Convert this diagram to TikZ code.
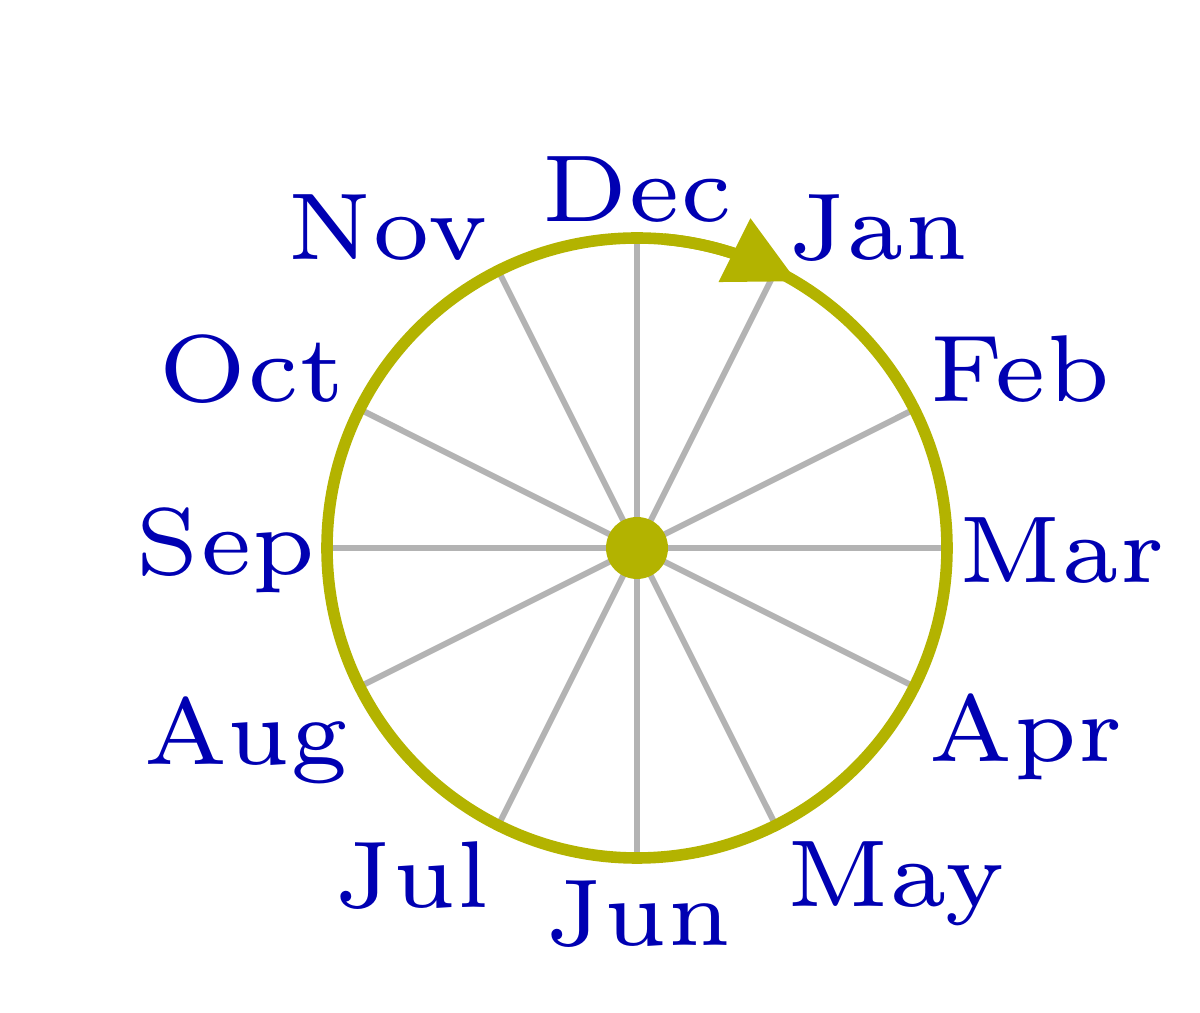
\documentclass[tikz,border=0pt]{standalone}
\usepackage{tikz}
\usetikzlibrary{arrows.meta}
\definecolor{rimcol}{RGB}{179,179,0}
\definecolor{spokecol}{RGB}{179,179,179}
\definecolor{labelcol}{RGB}{0,0,178}

\begin{document}
\begin{tikzpicture}[
    spoke/.style={spokecol,line width=1.7pt},
    rim/.style={rimcol,line width=3.3pt},
    month/.style={text=labelcol,font=\fontsize{6}{7}\selectfont,scale=4.5,anchor=base,inner sep=0pt}]
  \useasboundingbox (0,0) rectangle (12,10.13);
  \coordinate (c) at (6.37,4.65);
  \foreach \ang in {0,26.57,63.43,90,116.57,153.43,180,206.57,243.43,270,296.57,333.43}
    \draw[spoke] (c) -- ++(\ang:3.1);
  \draw[rim] (c) circle[radius=3.1];
  \draw[rim,-{Triangle[length=0.7cm,width=0.68cm]}] (c) ++(85:3.1)
    arc[start angle=85,end angle=63.43,radius=3.1] -- ++(-26.57:0.24);
  \node[circle,fill=rimcol,minimum size=0.62cm,inner sep=0pt] (hub) at (c) {};
  \foreach \name/\x/\y/\txt in {dec/6.37/7.91/Dec, jan/8.78/7.53/Jan, feb/10.20/6.11/Feb,
      mar/10.62/4.30/Mar, apr/10.26/2.51/Apr, may/8.96/1.06/May, jun/6.38/0.68/Jun,
      jul/4.12/1.05/Jul, aug/2.46/2.48/Aug, sep/2.26/4.38/Sep, oct/2.52/6.11/Oct,
      nov/3.88/7.53/Nov}
    \node[month] (\name) at (\x,\y) {\txt};
\end{tikzpicture}
\end{document}
